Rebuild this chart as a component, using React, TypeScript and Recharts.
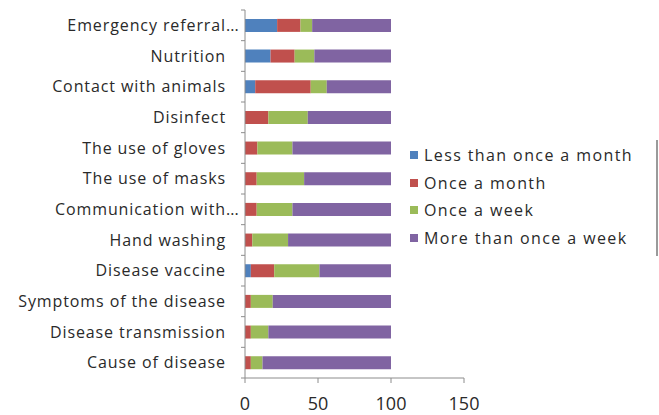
import React from "react";
import { Bar, BarChart, XAxis, YAxis } from "recharts";

const categories = [
  "Emergency referral",
  "Nutrition",
  "Contact with animals",
  "Disinfect",
  "The use of gloves",
  "The use of masks",
  "Communication with",
  "Hand washing",
  "Disease vaccine",
  "Symptoms of the disease",
  "Disease transmission",
  "Cause of disease",
];
const truncated = ["Emergency referral", "Communication with"];

const lessThanMonthly = [22, 17.5, 7, 0, 0, 0, 0, 0, 4, 0, 0, 0];
const monthly = [16, 16.5, 38, 16, 8.5, 8, 8, 5, 16, 4, 4, 4];
const weekly = [8, 13.5, 11, 27, 24, 32.5, 24.5, 24.5, 31, 15, 12, 8];
const moreThanWeekly = [54, 52.5, 44, 57, 67.5, 59.5, 67.5, 70.5, 49, 81, 84, 88];

const xTicks = [0, 50, 100, 150];

const series = [
  { key: "less", name: "Less than once a month", color: "#4F81BD" },
  { key: "month", name: "Once a month", color: "#C0504D" },
  { key: "week", name: "Once a week", color: "#9BBB59" },
  { key: "more", name: "More than once a week", color: "#8064A2" },
];

const data = categories.map((c, i) => ({
  name: c,
  less: lessThanMonthly[i],
  month: monthly[i],
  week: weekly[i],
  more: moreThanWeekly[i],
}));

const FONT = "'Open Sans', sans-serif";
const AXIS = "#8c8c8c";
const TEXT = "#2a2a2a";
const BAND = 368 / categories.length;

function CategoryTick(props: any) {
  const { x, y, payload, index } = props;
  const label = payload.value as string;
  const ax = x + 8; // axis line position
  return (
    <g>
      <line x1={ax - 4} x2={ax} y1={y + BAND / 2} y2={y + BAND / 2} stroke={AXIS} />
      {index === 0 && <line x1={ax - 4} x2={ax} y1={y - BAND / 2} y2={y - BAND / 2} stroke={AXIS} />}
      <text x={ax - 19} y={y} dy="0.35em" textAnchor="end" fontSize={16} letterSpacing={0.9} fill={TEXT} fontFamily={FONT}>
        {label}
      </text>
      {truncated.includes(label) && (
        <text x={ax - 19} y={y} dy="0.35em" textAnchor="start" fontSize={16} fill={TEXT} fontFamily={FONT}>
          ...
        </text>
      )}
    </g>
  );
}

export default function App() {
  return (
    <div style={{ position: "absolute", left: 0, top: 0, width: 659, height: 415, background: "#fff" }}>
      <BarChart
        width={659}
        height={415}
        data={data}
        layout="vertical"
        barCategoryGap="29%"
        margin={{ top: 10, right: 195, bottom: 0, left: 0 }}
      >
        <XAxis
          type="number"
          domain={[0, 150]}
          ticks={xTicks}
          tick={{ fontSize: 18, fill: TEXT, fontFamily: FONT }}
          tickSize={5}
          tickMargin={14}
          axisLine={{ stroke: AXIS }}
          tickLine={{ stroke: AXIS }}
          height={37}
        />
        <YAxis
          type="category"
          dataKey="name"
          width={245}
          tick={<CategoryTick />}
          tickLine={false}
          axisLine={{ stroke: AXIS }}
          interval={0}
        />
        {series.map((s) => (
          <Bar key={s.key} dataKey={s.key} name={s.name} stackId="a" fill={s.color} isAnimationActive={false} />
        ))}
      </BarChart>
      <div style={{ position: "absolute", left: 410, top: 141, fontFamily: FONT, fontSize: 16, letterSpacing: 1.4, color: TEXT }}>
        {series.map((s) => (
          <div key={s.key} style={{ display: "flex", alignItems: "center", height: 27.7, whiteSpace: "nowrap" }}>
            <span style={{ display: "inline-block", width: 8, height: 8, background: s.color, marginRight: 6 }} />
            {s.name}
          </div>
        ))}
      </div>
      <div style={{ position: "absolute", left: 656, top: 140, width: 1.5, height: 116, background: "#9a9a9a" }} />
    </div>
  );
}
